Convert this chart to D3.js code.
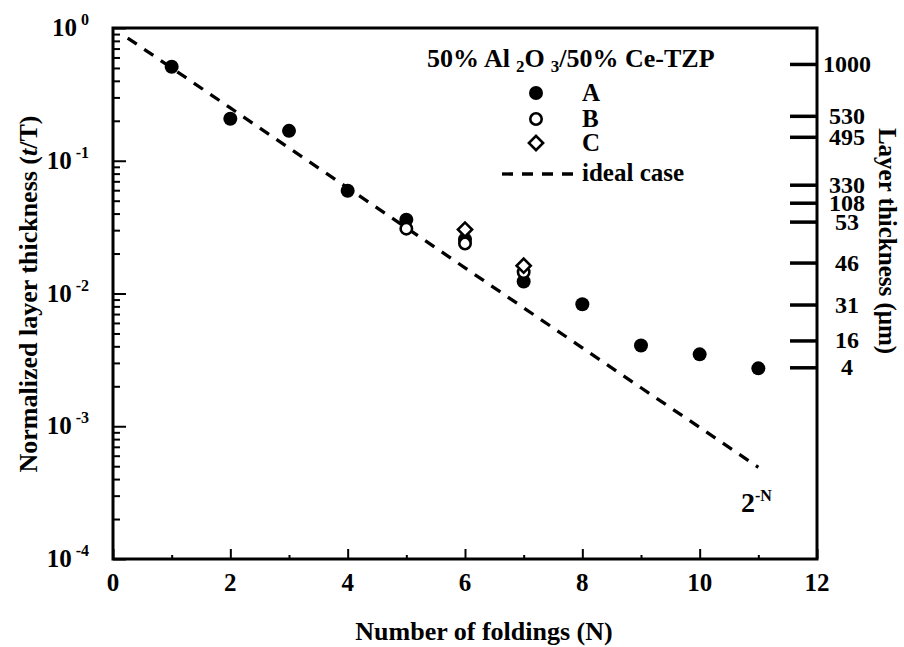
<!DOCTYPE html>
<html>
<head>
  <meta charset='utf-8'>
  <script src='https://d3js.org/d3.v7.min.js'></script>
  <style>
    body { margin: 0; background: #fff; }
    svg text {
      font-family: 'Liberation Serif', 'Times New Roman', serif;
      font-weight: bold;
      fill: #000;
    }
  </style>
</head>
<body>
<svg id='chart' width='904' height='647'></svg>
<script>
  // series
  var foldingsA = [1, 2, 3, 4, 5, 6, 7, 8, 9, 10, 11];
  var thicknessA = [0.51, 0.207, 0.168, 0.0594, 0.036, 0.0255, 0.0123, 0.0083, 0.00406, 0.00348, 0.00273];
  var foldingsB = [5, 6, 7];
  var thicknessB = [0.0308, 0.0238, 0.0145];
  var foldingsC = [6, 7];
  var thicknessC = [0.0303, 0.0162];
  var idealN = [0.25, 1, 2, 3, 4, 5, 6, 7, 8, 9, 10, 11];
  var idealT = [0.84, 0.5, 0.25, 0.125, 0.0625, 0.0313, 0.0156, 0.0078, 0.0039, 0.00195, 0.00098, 0.00049];

  // ticks
  var xTicks = [0, 2, 4, 6, 8, 10, 12];
  var decades = [1e-4, 1e-3, 1e-2, 1e-1, 1];
  var decadeExp = ['-4', '-3', '-2', '-1', '0'];
  var layerLabels = ['1000', '530', '495', '330', '108', '53', '46', '31', '16', '4'];
  var layerAt = [0.536, 0.218, 0.1515, 0.066, 0.0483, 0.0348, 0.0171, 0.00826, 0.00443, 0.00278];
  var seriesNames = ['A', 'B', 'C'];

  var x0 = 113, x1 = 817, y0 = 28, y1 = 559;
  var svg = d3.select('#chart');
  var x = d3.scaleLinear().domain([0, 12]).range([x0, x1]);
  var y = d3.scaleLog().domain([1e-4, 1]).range([y1, y0]);

  /*
    axes: ticks point inward
  */
  var minor = y.ticks().filter(function(d) { return decades.indexOf(d) < 0; });
  function frameAxis(g) {
    g.select('.domain').remove();
    g.selectAll('.tick text').remove();
    g.selectAll('.tick line').attr('stroke', '#000').attr('stroke-width', 2);
  }
  svg.append('g').attr('transform', 'translate(' + x0 + ',0)')
    .call(d3.axisLeft(y).tickValues(decades).tickSize(-13)).call(frameAxis);
  svg.append('g').attr('transform', 'translate(' + x0 + ',0)')
    .call(d3.axisLeft(y).tickValues(minor).tickSize(-7)).call(frameAxis);
  svg.append('g').attr('transform', 'translate(0,' + y1 + ')')
    .call(d3.axisBottom(x).tickValues(xTicks).tickSize(-10)).call(frameAxis);
  svg.append('g').attr('transform', 'translate(0,' + y1 + ')')
    .call(d3.axisBottom(x).tickValues([1, 3, 5, 7, 9, 11]).tickSize(-4)).call(frameAxis);
  svg.append('g').attr('transform', 'translate(' + x1 + ',0)')
    .call(d3.axisLeft(y).tickValues(layerAt).tickSize(27)).call(frameAxis)
    .selectAll('.tick line').attr('stroke-width', 3.5);

  svg.append('rect')
    .attr('x', x0).attr('y', y0)
    .attr('width', x1 - x0).attr('height', y1 - y0)
    .attr('fill', 'none').attr('stroke', '#000').attr('stroke-width', 3);

  // left tick labels 10^n
  var yl = svg.append('g').selectAll('text').data(decades).enter().append('text')
    .attr('x', 89)
    .attr('y', function(d) { return y(d) + 8; })
    .attr('text-anchor', 'end')
    .style('font-size', '25px');
  yl.append('tspan').text('10');
  yl.append('tspan').attr('dx', 4).attr('dy', -11).style('font-size', '16px')
    .text(function(d, i) { return decadeExp[i]; });

  svg.append('g').selectAll('text').data(xTicks).enter().append('text')
    .attr('x', function(d) { return x(d); })
    .attr('y', 591)
    .attr('text-anchor', 'middle')
    .style('font-size', '25px')
    .text(function(d) { return d; });

  svg.append('g').selectAll('text').data(layerLabels).enter().append('text')
    .attr('x', 847)
    .attr('y', function(d, i) { return y(layerAt[i]) + 8; })
    .attr('text-anchor', 'middle')
    .style('font-size', '24px')
    .text(function(d) { return d; });

  // axis titles
  svg.append('text')
    .attr('transform', 'translate(484,640)')
    .attr('text-anchor', 'middle')
    .style('font-size', '26px')
    .text('Number of foldings (N)');
  var yt = svg.append('text')
    .attr('transform', 'translate(37,294) rotate(-90)')
    .attr('text-anchor', 'middle')
    .style('font-size', '26px');
  yt.append('tspan').text('Normalized layer thickness (');
  yt.append('tspan').style('font-style', 'italic').text('t');
  yt.append('tspan').text('/T)');
  svg.append('text')
    .attr('transform', 'translate(879,241) rotate(90)')
    .attr('text-anchor', 'middle')
    .style('font-size', '25px')
    .text('Layer thickness (\u03bcm)');

  /*
    ideal line and data
  */
  var line = d3.line()
    .x(function(d, i) { return x(idealN[i]); })
    .y(function(d) { return y(d); });
  svg.append('path')
    .attr('d', line(idealT))
    .attr('fill', 'none').attr('stroke', '#000')
    .attr('stroke-width', 3.3).attr('stroke-dasharray', '11,9');

  var diamond = d3.symbol().type(d3.symbolSquare).size(100);
  function drawA(sel) {
    sel.append('circle').attr('r', 7).attr('fill', '#000');
  }
  function drawB(sel) {
    sel.append('circle').attr('r', 5.7).attr('fill', '#fff')
      .attr('stroke', '#000').attr('stroke-width', 2.6);
  }
  function drawC(sel) {
    sel.append('path').attr('d', diamond()).attr('transform', 'rotate(45)')
      .attr('fill', '#fff').attr('stroke', '#000').attr('stroke-width', 2.6);
  }
  function plot(xs, ys, draw) {
    svg.append('g').selectAll('g').data(ys).enter().append('g')
      .attr('transform', function(d, i) { return 'translate(' + x(xs[i]) + ',' + y(d) + ')'; })
      .call(draw);
  }
  plot(foldingsA, thicknessA, drawA);
  plot(foldingsB, thicknessB, drawB);
  plot(foldingsC, thicknessC, drawC);

  // 2^-N label
  var lab = svg.append('text').attr('x', 741).attr('y', 512).style('font-size', '28px');
  lab.append('tspan').text('2');
  lab.append('tspan').attr('dy', -11).style('font-size', '16px').text('-N');

  /*
    legend
  */
  var lt = svg.append('text').attr('x', 427).attr('y', 67).style('font-size', '26px');
  lt.append('tspan').text('50% Al');
  lt.append('tspan').attr('dx', 6).attr('dy', 5).style('font-size', '17px').text('2');
  lt.append('tspan').attr('dy', -5).text('O');
  lt.append('tspan').attr('dx', 6).attr('dy', 5).style('font-size', '17px').text('3');
  lt.append('tspan').attr('dy', -5).text('/50% Ce-TZP');

  var legendY = [93, 119, 143];
  var drawers = [drawA, drawB, drawC];
  seriesNames.forEach(function(name, i) {
    var g = svg.append('g').attr('transform', 'translate(536,' + legendY[i] + ')');
    drawers[i](g);
    svg.append('text').attr('x', 582).attr('y', legendY[i] + 8)
      .style('font-size', '25px').text(name);
  });
  svg.append('line')
    .attr('x1', 502).attr('x2', 578).attr('y1', 174).attr('y2', 174)
    .attr('stroke', '#000').attr('stroke-width', 3.3).attr('stroke-dasharray', '11,9');
  svg.append('text').attr('x', 582).attr('y', 181)
    .style('font-size', '25px').text('ideal case');
</script>
</body>
</html>
